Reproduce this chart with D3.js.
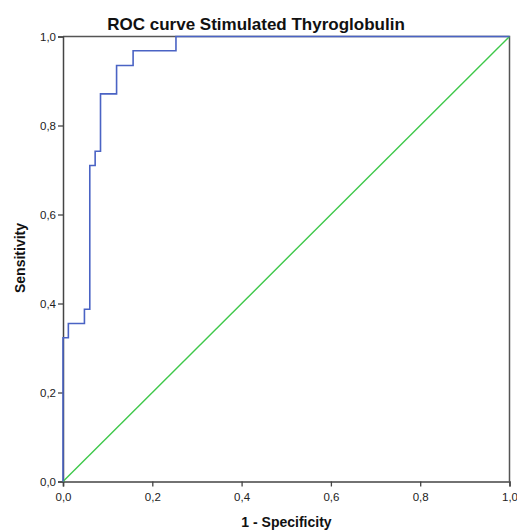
<!DOCTYPE html>
<html><head><meta charset="utf-8">
<script src="https://cdn.jsdelivr.net/npm/d3@7"></script>
<style>body{margin:0;background:#fff}svg{display:block}</style>
</head><body>
<svg id="c" width="517" height="531"></svg>
<script>
const fpr = [0, 0, 0.012, 0.012, 0.048, 0.048, 0.060, 0.060, 0.072, 0.072, 0.084, 0.084, 0.120, 0.120, 0.157, 0.157, 0.253, 0.253, 1.0];
const tpr = [0, 0.323, 0.323, 0.355, 0.355, 0.387, 0.387, 0.710, 0.710, 0.742, 0.742, 0.871, 0.871, 0.935, 0.935, 0.968, 0.968, 1.0, 1.0];
const refLine = [0, 1];
const ticks = [0, 0.2, 0.4, 0.6, 0.8, 1.0];
const title = "ROC curve Stimulated Thyroglobulin";
const xLabel = "1 - Specificity";
const yLabel = "Sensitivity";

const svg = d3.select("#c");
const L = 63, R = 509.5, T = 36.5, B = 481.5;
const x = d3.scaleLinear().domain([0, 1]).range([L, R]);
const y = d3.scaleLinear().domain([0, 1]).range([B, T]);
const fmt = d => d3.format(".1f")(d).replace(".", ",");
const font = "Arial, 'Liberation Sans', sans-serif";

// frame (top/right)
svg.append("path").attr("d", `M${L},${T}H${R}V${B}`).attr("fill", "none")
  .attr("stroke", "#555").attr("stroke-width", 1.5);

const xa = svg.append("g").attr("transform", `translate(0,${B})`)
  .call(d3.axisBottom(x).tickValues(ticks).tickFormat(fmt).tickSizeOuter(0).tickSize(5).tickPadding(6));
const ya = svg.append("g").attr("transform", `translate(${L},0)`)
  .call(d3.axisLeft(y).tickValues(ticks).tickFormat(fmt).tickSizeOuter(0).tickSize(5).tickPadding(2));
[xa, ya].forEach(a => {
  a.selectAll("path.domain").attr("stroke", "#444").attr("stroke-width", 1.5);
  a.selectAll(".tick line").attr("stroke", "#444").attr("stroke-width", 1.3);
  a.selectAll("text").attr("font-family", font).attr("font-size", 11.5).attr("fill", "#222");
});

// reference diagonal
svg.append("line").attr("x1", x(refLine[0])).attr("y1", y(refLine[0]))
  .attr("x2", x(refLine[1])).attr("y2", y(refLine[1]))
  .attr("stroke", "#3ec84a").attr("stroke-width", 1.4);

// ROC curve
const line = d3.line().x((d, i) => x(fpr[i])).y((d, i) => y(tpr[i]));
svg.append("path").datum(fpr).attr("d", line).attr("fill", "none")
  .attr("stroke", "#4a63c4").attr("stroke-width", 1.6);

svg.append("text").attr("x", 256).attr("y", 30).attr("text-anchor", "middle")
  .attr("font-family", font).attr("font-weight", "bold").attr("font-size", 17).attr("fill", "#111").text(title);
svg.append("text").attr("x", 286.5).attr("y", 527).attr("text-anchor", "middle")
  .attr("font-family", font).attr("font-weight", "bold").attr("font-size", 14).attr("fill", "#111").text(xLabel);
svg.append("text").attr("transform", "translate(25,258) rotate(-90)").attr("text-anchor", "middle")
  .attr("font-family", font).attr("font-weight", "bold").attr("font-size", 14).attr("fill", "#111").text(yLabel);
</script>
</body></html>
